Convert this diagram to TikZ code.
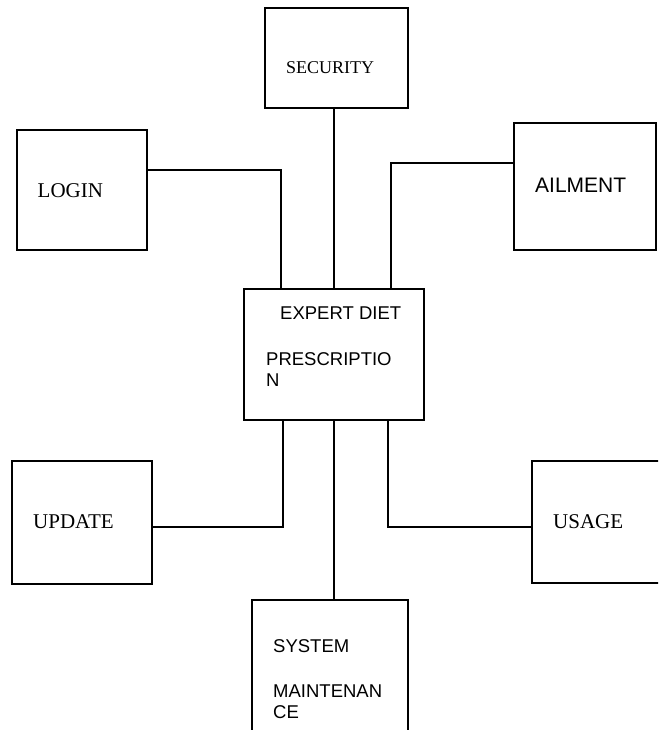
\documentclass[tikz,border=0pt]{standalone}
\usepackage{fontspec}
\setmainfont{Liberation Serif}
\setsansfont{Liberation Sans}
\tikzset{
  box/.style={draw, line width=1.6pt, minimum width=#1, inner sep=0pt},
  serif/.style={inner sep=0pt, anchor=base west, font=\fontsize{21}{24}\selectfont},
  sans/.style={inner sep=0pt, anchor=base west, align=left, font=\sffamily\fontsize{18.5}{20.5}\selectfont},
  link/.style={line width=1.6pt}
}
\begin{document}
\begin{tikzpicture}[x=1pt, y=-1pt]
\useasboundingbox (0,0) rectangle (658,730);
\clip (0,0) rectangle (658,730);
\node[box=143pt, minimum height=100pt](security) at (336.5,58){};
\node[box=130pt, minimum height=120pt](login) at (82,190){};
\node[box=142pt, minimum height=127pt](ailment) at (585,186.5){};
\node[box=180pt, minimum height=131pt](expert) at (334,354.5){};
\node[box=140pt, minimum height=123pt](update) at (82,522.5){};
\node[box=130pt, minimum height=122pt](usage) at (597,522){};
\node[box=156pt, minimum height=145pt](system) at (330,672.5){};

\node[serif, font=\fontsize{18}{21}\selectfont](securitytxt) at (286,74){SECURITY};
\node[serif](logintxt) at (37.5,197){LOGIN};
\node[sans, font=\sffamily\fontsize{21}{24}\selectfont](ailmenttxt) at (535,192){AILMENT};
\node[sans](experttxt) at (280,319){EXPERT DIET};
\node[sans](prescrtxt) at (266,386){PRESCRIPTIO\\N};
\node[serif](updatetxt) at (33,528){UPDATE};
\node[serif](usagetxt) at (553,528){USAGE};
\node[sans](systemtxt) at (273,652){SYSTEM};
\node[sans](mainttxt) at (273,718){MAINTENAN\\CE};

\draw[link](security.south -| expert.north)--(expert.north);
\draw[link]([yshift=20pt]login.east)-|([xshift=-53pt]expert.north);
\draw[link]([yshift=23.5pt]ailment.west)-|([xshift=57pt]expert.north);
\draw[link]([yshift=-4.5pt]update.east)-|([xshift=-51pt]expert.south);
\draw[link]([yshift=-5pt]usage.west)-|([xshift=54pt]expert.south);
\draw[link](expert.south)--(expert.south |- system.north);
\end{tikzpicture}
\end{document}
